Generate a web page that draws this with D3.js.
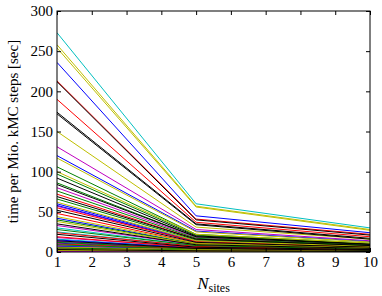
<!DOCTYPE html>
<html>
<head>
<meta charset="utf-8">
<script src="https://cdn.jsdelivr.net/npm/d3@7"></script>
<style>
  body { margin: 0; background: #fff; }
  svg text { font-family: "Liberation Serif", "DejaVu Serif", serif; fill: #000; }
</style>
</head>
<body>
<script>
// number of sites on the x axis
var nSites = [1, 5, 10];

// time per Mio. kMC steps, one entry per run, at N = 1, 5 and 10
var t1 = [
  236, 106, 213, 273, 131, 258, 212,
  120, 97, 190, 30, 80, 254, 174,
  60, 86, 72, 25, 57, 150, 172,
  58, 76, 55, 16, 33, 117, 92,
  42, 66, 48, 13, 18, 100, 84,
  15, 40, 24, 9, 13, 62, 69,
  11, 28, 19, 7, 8, 44, 52,
  7, 12, 10, 4, 6, 38, 35,
  4, 9, 5, 2, 3, 6, 22,
  2.5, 5, 3, 1.5, 1.8, 3.5, 14,
  1, 2, 1.2, 0.8, 0.6, 2, 3
];
var t5 = [
  45, 22, 41, 60, 28, 57, 40,
  26, 21, 37, 8, 18, 56, 35,
  14, 19, 16, 7, 13, 31, 34,
  13, 17, 13, 5, 9, 25, 20,
  10, 15, 11, 4.5, 6, 22, 19,
  5, 10, 7, 3.5, 4.5, 14, 16,
  4, 8, 5.5, 3, 3.2, 11, 12,
  3, 4, 3.8, 2, 2.6, 9.5, 9,
  2, 3.4, 2.5, 1.2, 1.6, 2.8, 6,
  1.2, 2.2, 1.6, 0.8, 1, 1.6, 4.5,
  0.6, 1, 0.8, 0.4, 0.4, 1, 1.5
];
var t10 = [
  24, 11, 22, 30, 14, 28, 21,
  13, 10, 19, 4, 9, 27, 17,
  7, 9.5, 8, 3.5, 6.5, 16, 16,
  6.5, 8.5, 6.5, 2.3, 4, 12.5, 10,
  5, 7.5, 5.5, 2, 2.6, 11, 9.5,
  2.2, 5, 3.4, 1.5, 1.9, 7, 8,
  1.7, 3.6, 2.6, 1.2, 1.3, 5.5, 6,
  1.2, 1.8, 1.6, 0.8, 1, 4.6, 4.5,
  0.8, 1.4, 0.9, 0.5, 0.6, 1.1, 3,
  0.5, 0.9, 0.6, 0.3, 0.4, 0.7, 2.1,
  0.3, 0.4, 0.3, 0.2, 0.2, 0.4, 0.6
];
var xTicks = [1, 2, 3, 4, 5, 6, 7, 8, 9, 10];
var yTicks = [0, 50, 100, 150, 200, 250, 300];

// matplotlib classic colour cycle b g r c m y k
var cycle = ['#0000ff', '#008000', '#ff0000', '#00bfbf', '#bf00bf', '#bfbf00', '#000000'];

var margin = { top: 11, right: 12, bottom: 44, left: 57 },
    width = 382 - margin.left - margin.right,
    height = 296 - margin.top - margin.bottom;

var svg = d3.select('body').append('svg')
  .attr('width', 382)
  .attr('height', 296);

var g = svg.append('g')
  .attr('transform', 'translate(' + margin.left + ',' + margin.top + ')');

var x = d3.scaleLinear().domain([1, 10]).range([0, width]);
var y = d3.scaleLinear().domain([0, 300]).range([height, 0]);

g.append('clipPath').attr('id', 'clip')
  .append('rect').attr('width', width).attr('height', height);

var series = t1.map(function(v, i) {
  return [v, t5[i], t10[i]].map(function(t, k) { return { n: nSites[k], t: t }; });
});

var line = d3.line()
  .x(function(d) { return x(d.n); })
  .y(function(d) { return y(d.t); });

g.append('g').attr('clip-path', 'url(#clip)')
  .selectAll('path')
  .data(series)
  .enter().append('path')
  .attr('d', line)
  .attr('fill', 'none')
  .attr('stroke', function(d, i) { return cycle[i % cycle.length]; })
  .attr('stroke-width', 1);

// ticks inside on all four sides
var tl = 4;
g.append('g').attr('transform', 'translate(0,' + height + ')')
  .call(d3.axisBottom(x).tickValues(xTicks).tickSizeInner(-tl).tickSizeOuter(0).tickPadding(4));
g.append('g')
  .call(d3.axisTop(x).tickValues(xTicks).tickSizeInner(-tl).tickSizeOuter(0).tickFormat(''));
g.append('g')
  .call(d3.axisLeft(y).tickValues(yTicks).tickSizeInner(-tl).tickSizeOuter(0).tickPadding(4));
g.append('g').attr('transform', 'translate(' + width + ',0)')
  .call(d3.axisRight(y).tickValues(yTicks).tickSizeInner(-tl).tickSizeOuter(0).tickFormat(''));

g.selectAll('.domain').remove();
g.selectAll('.tick text').style('font-size', '15px');
g.selectAll('.tick line').attr('stroke', '#000');

g.append('rect')
  .attr('width', width).attr('height', height)
  .attr('fill', 'none').attr('stroke', '#000').attr('stroke-width', 1);

// axis labels
var xl = svg.append('text')
  .attr('x', margin.left + width / 2)
  .attr('y', 289)
  .attr('text-anchor', 'middle')
  .style('font-size', '17px');
xl.append('tspan').style('font-style', 'italic').text('N');
xl.append('tspan').attr('dy', 3).style('font-size', '12px').text('sites');

svg.append('text')
  .attr('transform', 'translate(18,' + (margin.top + height / 2) + ') rotate(-90)')
  .attr('text-anchor', 'middle')
  .style('font-size', '15px')
  .text('time per Mio. kMC steps [sec]');
</script>
</body>
</html>
